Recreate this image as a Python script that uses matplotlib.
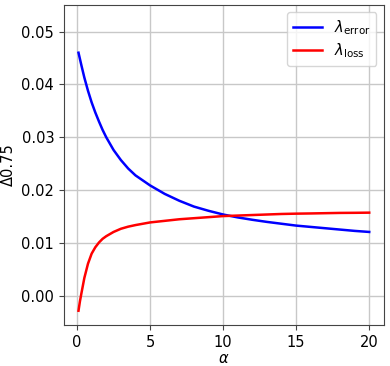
import numpy as np
import matplotlib.pyplot as plt

# values
alpha = [0.1, 0.2, 0.3, 0.5, 0.75, 1.0, 1.25, 1.5, 1.75, 2.0, 2.5, 3.0, 3.5, 4.0,
         5.0, 6.0, 7.0, 8.0, 9.0, 10.0, 11.0, 12.0, 13.0, 14.0, 15.0,
         16.0, 17.0, 18.0, 19.0, 20.0]
lam_error = [0.0460, 0.0448, 0.0436, 0.0413, 0.0388, 0.0366, 0.0347, 0.0330,
             0.0314, 0.0300, 0.0276, 0.0257, 0.0241, 0.0228,
             0.0209, 0.0193, 0.0180, 0.0169, 0.0161, 0.0154, 0.01485, 0.0144,
             0.0140, 0.01365, 0.0133, 0.01305, 0.0128, 0.01255, 0.0123, 0.0121]
lam_loss = [-0.0028, -0.0010, 0.0005, 0.0034, 0.0061, 0.0080, 0.0092, 0.0101,
            0.0108, 0.0113, 0.0121, 0.0127, 0.0131, 0.0134,
            0.0139, 0.0142, 0.0145, 0.0147, 0.0149, 0.0151, 0.0152, 0.0153,
            0.0154, 0.0155, 0.01556, 0.0156, 0.01565, 0.0157, 0.01572, 0.01575]

plt.rcParams['font.size'] = 10.5

fig, ax = plt.subplots(figsize=(3.9, 3.66), dpi=100)
fig.subplots_adjust(left=0.164, right=0.984, top=0.986, bottom=0.112)

ax.plot(alpha, lam_error, color='blue', lw=1.8, label=r'$\lambda_{\rm error}$')
ax.plot(alpha, lam_loss, color='red', lw=1.8, label=r'$\lambda_{\rm loss}$')

ax.set_ylim(-0.0055, 0.055)
ax.set_xticks([0, 5, 10, 15, 20])
ax.set_yticks([0.00, 0.01, 0.02, 0.03, 0.04, 0.05])
ax.set_xlabel(r'$\alpha$', labelpad=1)
ax.set_ylabel('Δ0.75')
ax.grid(True, color='#c8c8c8', lw=1)
for s in ax.spines.values():
    s.set_color('#444444')
ax.tick_params(color='#444444')
ax.legend(loc='upper right', labelspacing=0.3)

fig.savefig('out.png', dpi=100)
